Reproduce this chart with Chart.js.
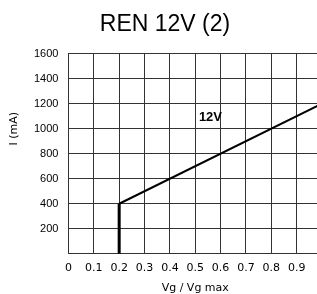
<!doctype html>
<html>

<head>
    <title>REN 12V (2)</title>
    <script src="https://cdn.jsdelivr.net/npm/chart.js"></script>
    <style>
        html, body { margin: 0; padding: 0; overflow: hidden; background: #fff; }
        #wrap { width: 330px; height: 294px; }
    </style>
</head>

<body>
    <div id="wrap">
        <canvas id="grafico" width="330" height="294"></canvas>
    </div>

    <script>
        // data
        var vgRatio = [0.2, 0.2, 1.0];
        var currentMa = [0, 400, 1200];
        var xTickLabels = ['0', '0.1', '0.2', '0.3', '0.4', '0.5', '0.6', '0.7', '0.8', '0.9', ''];
        var yTickLabels = ['', '200', '400', '600', '800', '1000', '1200', '1400', '1600'];
        var curveLabel = '12V';
        var curveLabelAt = [0.56, 1090];

        var pontos = vgRatio.map(function (v, i) { return { x: v, y: currentMa[i] }; });

        // y title sits above the middle in the original, so draw it by hand
        var textos = {
            id: 'textos',
            afterDraw: function (chart) {
                var ctx = chart.ctx;
                var sx = chart.scales.x, sy = chart.scales.y;
                ctx.save();
                ctx.fillStyle = '#000';
                ctx.font = 'bold 13px "Liberation Sans", Arial, sans-serif';
                ctx.textAlign = 'center';
                ctx.textBaseline = 'middle';
                ctx.fillText(curveLabel, sx.getPixelForValue(curveLabelAt[0]), sy.getPixelForValue(curveLabelAt[1]));

                ctx.translate(14, sy.getPixelForValue(1000));
                ctx.rotate(-Math.PI / 2);
                ctx.font = '11px "DejaVu Sans", sans-serif';
                ctx.fillText('I (mA)', 0, 0);
                ctx.restore();
            }
        };

        var grafico = new Chart(document.getElementById('grafico').getContext('2d'), {
            type: 'line',
            data: {
                datasets: [{
                    data: pontos,
                    borderColor: '#000',
                    borderWidth: 2,
                    pointRadius: 0,
                    tension: 0,
                    segment: {
                        borderWidth: function (c) { return c.p0DataIndex == 0 ? 3 : 2; }
                    }
                }]
            },
            options: {
                responsive: false,
                animation: false,
                layout: { padding: 0 },
                plugins: {
                    legend: { display: false },
                    tooltip: { enabled: false },
                    title: {
                        display: true,
                        text: 'REN 12V (2)',
                        color: '#000',
                        font: { family: '"Liberation Sans", Arial, sans-serif', size: 23, weight: 'normal' },
                        padding: { top: 11, bottom: 15 }
                    }
                },
                scales: {
                    x: {
                        type: 'linear',
                        min: 0,
                        max: 1,
                        ticks: {
                            stepSize: 0.1,
                            padding: 8,
                            color: '#000',
                            maxRotation: 0,
                            autoSkip: false,
                            font: { family: '"DejaVu Sans", sans-serif', size: 11 },
                            callback: function (v, i) { return xTickLabels[i]; }
                        },
                        grid: { color: '#333', lineWidth: 1, drawTicks: false },
                        border: { color: '#333', width: 1 },
                        title: {
                            display: true,
                            text: 'Vg / Vg max',
                            color: '#000',
                            font: { family: '"DejaVu Sans", sans-serif', size: 11, lineHeight: 1 },
                            padding: { top: 0, bottom: 0 }
                        }
                    },
                    y: {
                        min: 0,
                        max: 1600,
                        afterFit: function (scale) { scale.width += 24; },
                        ticks: {
                            stepSize: 200,
                            padding: 10,
                            color: '#000',
                            font: { family: '"Liberation Sans", Arial, sans-serif', size: 11 },
                            callback: function (v, i) { return yTickLabels[i]; }
                        },
                        grid: { color: '#333', lineWidth: 1, drawTicks: false },
                        border: { color: '#333', width: 1 }
                    }
                }
            },
            plugins: [textos]
        });
    </script>
</body>

</html>
